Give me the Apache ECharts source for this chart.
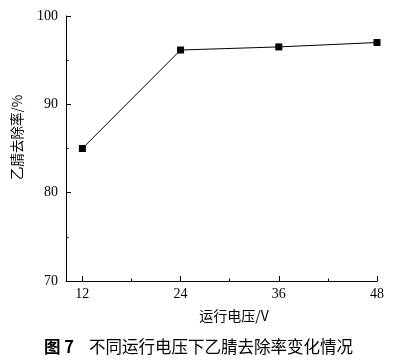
<!DOCTYPE html>
<html>
<head>
<meta charset="utf-8">
<script src="https://cdn.jsdelivr.net/npm/echarts@6/dist/echarts.min.js"></script>
<style>html,body{margin:0;padding:0;background:#fff}#c{width:397px;height:363px}</style>
</head>
<body>
<div id="c"></div>
<script>
var voltages = [12, 24, 36, 48];
var removal = [85.0, 96.15, 96.5, 97.0];
var xMajorTicks = [12, 24, 36, 48];
var xMinorTicks = [18, 30, 42];
var yTicks = [70, 80, 90, 100];

var serif = '"Liberation Serif","Times New Roman",serif';
var cjk = '"Noto Sans CJK SC",sans-serif';

var chart = echarts.init(document.getElementById('c'));
chart.setOption({
  animation: false,
  backgroundColor: '#fff',
  grid: {left: 66, right: 20, top: 16, bottom: 82, containLabel: false},
  title: {
    left: 'center', top: 333,
    text: '{b|图 7}{n|    不同运行电压下乙腈去除率变化情况}',
    textStyle: {
      rich: {
        b: {fontFamily: cjk, fontWeight: 'bold', fontSize: 16.5, color: '#000'},
        n: {fontFamily: cjk, fontWeight: 'normal', fontSize: 16.5, color: '#000'}
      }
    }
  },
  xAxis: [{
    type: 'value', min: 10, max: 48,
    name: '运行电压/V', nameLocation: 'middle', nameGap: 28,
    nameTextStyle: {fontFamily: cjk, fontSize: 14, color: '#000', padding: [0, 0, 0, 25]},
    axisLine: {show: true, onZero: false, lineStyle: {color: '#000', width: 1}},
    axisTick: {show: true, inside: true, length: 5, customValues: xMajorTicks, lineStyle: {color: '#000'}},
    axisLabel: {customValues: xMajorTicks, fontFamily: serif, fontSize: 14, color: '#000', margin: 6},
    splitLine: {show: false}
  }, {
    type: 'value', min: 10, max: 48, position: 'bottom',
    axisLine: {show: false},
    axisTick: {show: true, inside: true, length: 2.5, customValues: xMinorTicks, lineStyle: {color: '#000'}},
    axisLabel: {show: false},
    splitLine: {show: false}
  }],
  yAxis: {
    type: 'value', min: 70, max: 100, interval: 10,
    name: '乙腈去除率/%', nameLocation: 'middle', nameGap: 42, nameRotate: 90,
    nameTextStyle: {fontFamily: cjk, fontSize: 13.5, color: '#000', padding: [0, 0, 0, 22]},
    axisLine: {show: true, lineStyle: {color: '#000', width: 1}},
    axisTick: {show: true, inside: true, length: 5, lineStyle: {color: '#000'}},
    minorTick: {show: true, splitNumber: 2, length: 2.5, lineStyle: {color: '#000'}},
    axisLabel: {fontFamily: serif, fontSize: 14, color: '#000', margin: 8,
      customValues: yTicks},
    splitLine: {show: false}
  },
  series: [{
    type: 'line',
    data: voltages.map(function (v, i) { return [v, removal[i]]; }),
    symbol: 'rect', symbolSize: 7,
    lineStyle: {color: '#000', width: 1},
    itemStyle: {color: '#000'}
  }]
});
</script>
</body>
</html>
